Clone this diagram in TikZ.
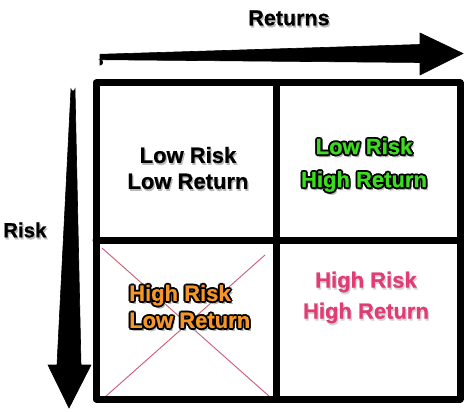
\documentclass[tikz,border=0pt]{standalone}
\usepackage{fontspec}
\setmainfont{Liberation Sans}[BoldFeatures={FakeBold=0.7}]
\usetikzlibrary{calc}
\definecolor{gridblack}{RGB}{0,0,0}
\definecolor{txtgreen}{RGB}{60,220,30}
\definecolor{txtorange}{RGB}{245,150,40}
\definecolor{txtpink}{RGB}{225,60,115}
\definecolor{xred}{RGB}{205,90,120}
\definecolor{shadowgray}{RGB}{185,185,185}
\tikzset{
  lbl/.style={font=\bfseries\fontsize{21.5}{26}\selectfont, inner sep=0pt},
  gridline/.style={draw=gridblack, line width=7pt, line join=round, line cap=round},
  crossline/.style={draw=xred, line width=0.9pt},
  bigarrow/.style={fill=black, draw=black, line width=0.6pt, line join=miter},
}
% name, position, options, fill colour, outline colour, text
\newcommand\outlinedlabel[6]{%
  \node[lbl, #3, text=shadowgray] (#1-sh) at ($(#2)+(2,3)$) {#6};
  \foreach \a in {0,45,...,315} {\node[lbl, #3, text=#5] (#1-o\a) at ($(#2)+(\a:1.9)$) {#6};}
  \node[lbl, #3, text=#4] (#1) at (#2) {#6};
}
\newcommand\shadowlabel[5]{%
  \node[lbl, #3, text=#5] (#1-sh) at ($(#2)+(1.2,2)$) {#4};
  \node[lbl, #3] (#1) at (#2) {#4};
}
\begin{document}
\begin{tikzpicture}[x=1pt, y=-1pt]
  \useasboundingbox[fill=white] (0,0) rectangle (474,412);
  % grid
  \coordinate (tl) at (96,83);
  \coordinate (br) at (460,399);
  \coordinate (mt) at (276,83);
  \coordinate (mb) at (276,399);
  \coordinate (ml) at (96,240);
  \coordinate (mr) at (460,240);
  % cross in lower-left cell
  \coordinate (xa1) at (102,248);
  \coordinate (xa2) at (270,397);
  \coordinate (xb1) at (265,255);
  \coordinate (xb2) at (105,397);
  \draw[crossline] (xa1) -- (xa2);
  \draw[crossline] (xb1) -- (xb2);
  \draw[gridline] (tl) rectangle (br);
  \draw[gridline] (mt) -- (mb);
  \draw[gridline] (ml) -- (mr);
  % horizontal tapered arrow
  \fill[bigarrow] (100,54.3) -- (420,44.5) -- (420,33) -- (463,53.5) -- (420,75) -- (420,62.5) -- (100,59.7) arc (90:270:-2.7) -- cycle;
  % vertical tapered arrow
  \fill[bigarrow] (71,89) -- (57,365) -- (48,365) -- (69,408) -- (91,365) -- (81,365) -- (75,89) arc (0:180:2) -- cycle;
  % axis labels
  \shadowlabel{returns}{289,18}{align=center}{Returns}{shadowgray}
  \shadowlabel{risk}{3,230}{anchor=west, font=\bfseries\fontsize{20.5}{26}\selectfont}{Risk}{shadowgray}
  % cell labels
  \shadowlabel{ll}{188,168}{align=center, font=\bfseries\fontsize{22}{26}\selectfont}{Low Risk\\Low Return}{shadowgray}
  \outlinedlabel{lh}{364,165}{align=center, font=\bfseries\fontsize{22}{33}\selectfont}{txtgreen}{black}{Low Risk\\High Return}
  \outlinedlabel{hl}{129,306.5}{anchor=west, align=left, font=\bfseries\fontsize{22}{27}\selectfont}{txtorange}{black}{High Risk\\Low Return}
  \shadowlabel{hh}{366,297.5}{align=center, text=txtpink, font=\bfseries\fontsize{22}{31}\selectfont}{High Risk\\High Return}{shadowgray!60}
\end{tikzpicture}
\end{document}
